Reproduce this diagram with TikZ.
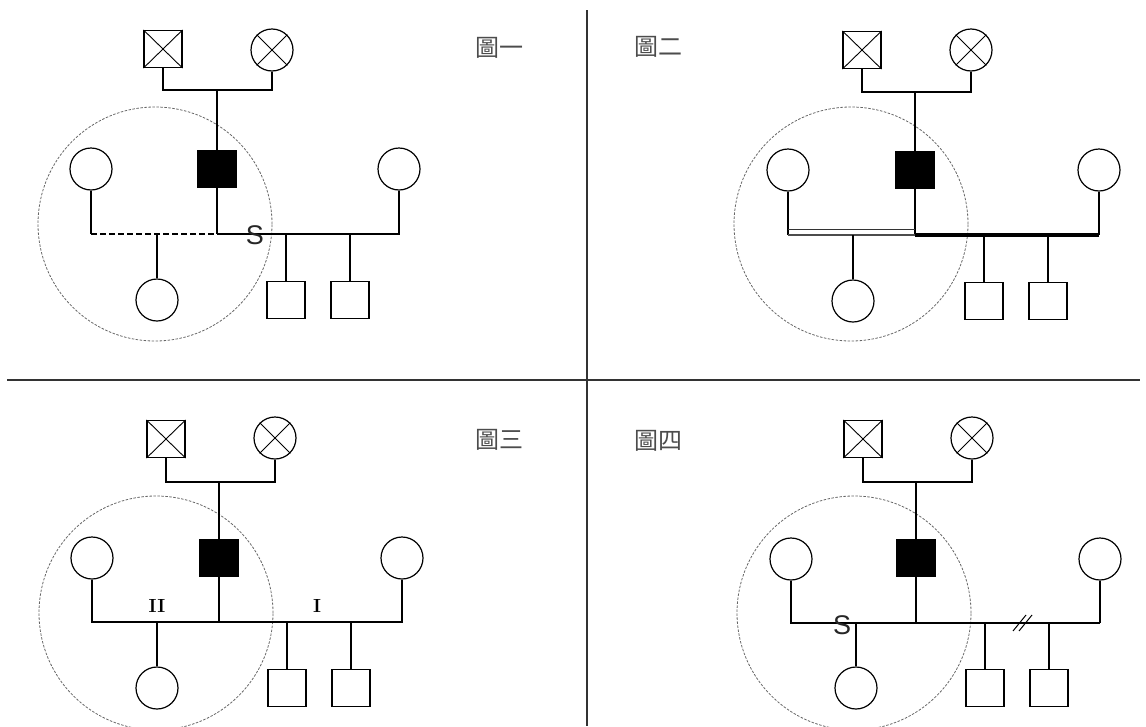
\documentclass[tikz,border=0pt]{standalone}
\usepackage{fontspec}
\newfontfamily\cjk{Noto Sans CJK TC}
\newfontfamily\sansS{Liberation Sans}
\begin{document}
\begin{tikzpicture}[x=1pt,y=-1pt,
  ln/.style={line width=1.3pt},
  sq/.style={draw,line width=1.2pt,rectangle,minimum width=38pt,minimum height=37pt,inner sep=0pt},
  ci/.style={draw,line width=1.2pt,circle,minimum size=42pt,inner sep=0pt},
  aff/.style={sq,fill=black},
  grp/.style={draw=black!60,line width=0.8pt,dash pattern=on 2.5pt off 1.5pt,circle,minimum size=234pt,inner sep=0pt},
  lab/.style={font=\cjk\fontsize{24}{26}\selectfont,text=black!70,inner sep=0pt},
  slab/.style={font=\sansS\fontsize{27}{29}\selectfont,inner sep=0pt,text=black!85},
  rn/.style={font=\bfseries\fontsize{19}{21}\selectfont,inner sep=0pt},
  xo/.style={line width=0.9pt}]
\useasboundingbox (0,0) rectangle (1146,726);

% dividers
\coordinate (vt) at (587,10); \coordinate (vb) at (587,726);
\coordinate (hl) at (7,380); \coordinate (hr) at (1140,380);
\draw[line width=1.4pt,black!80] (vt) -- (vb);
\draw[line width=1.6pt,black!80] (hl) -- (hr);

% ---------------- Panel 1 ----------------
\node[grp] (p1g) at (155,224) {};
\node[sq] (p1f) at (163,49) {};
\node[ci] (p1m) at (272,50) {};
\draw[xo] (p1f.north west) -- (p1f.south east) (p1f.north east) -- (p1f.south west);
\draw[xo] (p1m.north west) -- (p1m.south east) (p1m.north east) -- (p1m.south west);
\coordinate (p1b) at (217,90);
\draw[ln] (p1f.south) -- (p1f.south |- p1b) -- (p1m.south |- p1b) -- (p1m.south);
\node[aff] (p1a) at (217,169) {};
\draw[ln] (p1b) -- (p1a.north);
\node[ci] (p1w) at (91,169) {};
\node[ci] (p1r) at (399,169) {};
\coordinate (p1j) at (217,234);
\draw[ln] (p1a.south) -- (p1j);
\draw[ln] (p1w.south) -- (p1w.south |- p1j);
\draw[ln,dash pattern=on 6pt off 3pt] (p1w.south |- p1j) -- (p1j);
\draw[ln] (p1j) -- (p1r.south |- p1j) -- (p1r.south);
\node[ci] (p1c) at (157,300) {};
\draw[ln] (p1c.north |- p1j) -- (p1c.north);
\node[sq] (p1s1) at (286,300) {};
\node[sq] (p1s2) at (350,300) {};
\draw[ln] (p1s1.north |- p1j) -- (p1s1.north);
\draw[ln] (p1s2.north |- p1j) -- (p1s2.north);
\node[slab] (p1S) at (255,235) {S};
\node[lab] (p1L) at (499,48) {圖一};

% ---------------- Panel 2 ----------------
\node[grp] (p2g) at (851,224) {};
\node[sq] (p2f) at (862,50) {};
\node[ci] (p2m) at (971,50) {};
\draw[xo] (p2f.north west) -- (p2f.south east) (p2f.north east) -- (p2f.south west);
\draw[xo] (p2m.north west) -- (p2m.south east) (p2m.north east) -- (p2m.south west);
\node[aff] (p2a) at (915,170) {};
\coordinate (p2b) at (915,92);
\draw[ln] (p2f.south) -- (p2f.south |- p2b) -- (p2m.south |- p2b) -- (p2m.south);
\draw[line width=2.4pt] (p2b) -- (p2a.north);
\node[ci] (p2w) at (788,170) {};
\node[ci] (p2r) at (1099,170) {};
\coordinate (p2j) at (915,235);
\coordinate (p2u) at (915,229);
\draw[line width=2.4pt] (p2a.south) -- (p2j);
\draw[ln] (p2w.south) -- (p2w.south |- p2j);
\draw[line width=0.9pt,black!80] (p2w.south |- p2u) -- (p2u);
\draw[line width=1.5pt,black!70] (p2w.south |- p2j) -- (p2j);
\draw[line width=3.4pt] (p2j) -- (p2r.south |- p2j);
\draw[ln] (p2r.south |- p2j) -- (p2r.south);
\node[ci] (p2c) at (853,301) {};
\draw[ln] (p2c.north |- p2j) -- (p2c.north);
\node[sq] (p2s1) at (984,301) {};
\node[sq] (p2s2) at (1048,301) {};
\draw[ln] (p2s1.north |- p2j) -- (p2s1.north);
\draw[ln] (p2s2.north |- p2j) -- (p2s2.north);
\node[lab] (p2L) at (658,47) {圖二};

% ---------------- Panel 3 ----------------
\node[grp] (p3g) at (156,613) {};
\node[sq] (p3f) at (166,439) {};
\node[ci] (p3m) at (275,438) {};
\draw[xo] (p3f.north west) -- (p3f.south east) (p3f.north east) -- (p3f.south west);
\draw[xo] (p3m.north west) -- (p3m.south east) (p3m.north east) -- (p3m.south west);
\coordinate (p3b) at (219,482);
\draw[ln] (p3f.south) -- (p3f.south |- p3b) -- (p3m.south |- p3b) -- (p3m.south);
\node[aff] (p3a) at (219,558) {};
\draw[ln] (p3b) -- (p3a.north);
\node[ci] (p3w) at (92,558) {};
\node[ci] (p3r) at (402,558) {};
\coordinate (p3j) at (219,622);
\draw[ln] (p3a.south) -- (p3j);
\draw[ln] (p3w.south) -- (p3w.south |- p3j) -- (p3r.south |- p3j) -- (p3r.south);
\node[ci] (p3c) at (157,688) {};
\draw[ln] (p3c.north |- p3j) -- (p3c.north);
\node[sq] (p3s1) at (287,688) {};
\node[sq] (p3s2) at (351,688) {};
\draw[ln] (p3s1.north |- p3j) -- (p3s1.north);
\draw[ln] (p3s2.north |- p3j) -- (p3s2.north);
\node[rn] (p3II) at (157,606) {II};
\node[rn] (p3I) at (317,606) {I};
\node[lab] (p3L) at (499,440) {圖三};

% ---------------- Panel 4 ----------------
\node[grp] (p4g) at (854,613) {};
\node[sq] (p4f) at (863,439) {};
\node[ci] (p4m) at (972,438) {};
\draw[xo] (p4f.north west) -- (p4f.south east) (p4f.north east) -- (p4f.south west);
\draw[xo] (p4m.north west) -- (p4m.south east) (p4m.north east) -- (p4m.south west);
\coordinate (p4b) at (916,482);
\draw[ln] (p4f.south) -- (p4f.south |- p4b) -- (p4m.south |- p4b) -- (p4m.south);
\node[aff] (p4a) at (916,558) {};
\draw[ln] (p4b) -- (p4a.north);
\node[ci] (p4w) at (791,559) {};
\node[ci] (p4r) at (1100,559) {};
\coordinate (p4j) at (916,623);
\draw[ln] (p4a.south) -- (p4j);
\draw[ln] (p4w.south) -- (p4w.south |- p4j) -- (p4r.south |- p4j);
\draw[line width=2pt] (p4r.south |- p4j) -- (p4r.south);
\node[ci] (p4c) at (856,688) {};
\draw[ln] (p4c.north |- p4j) -- (p4c.north);
\node[sq] (p4s1) at (985,688) {};
\node[sq] (p4s2) at (1049,688) {};
\draw[ln] (p4s1.north |- p4j) -- (p4s1.north);
\draw[ln] (p4s2.north |- p4j) -- (p4s2.north);
\coordinate (p4k1a) at (1013,631); \coordinate (p4k1b) at (1026,615);
\coordinate (p4k2a) at (1019,631); \coordinate (p4k2b) at (1032,615);
\draw[line width=1pt] (p4k1a) -- (p4k1b) (p4k2a) -- (p4k2b);
\node[slab] (p4S) at (842,625) {S};
\node[lab] (p4L) at (658,441) {圖四};
\end{tikzpicture}
\end{document}
